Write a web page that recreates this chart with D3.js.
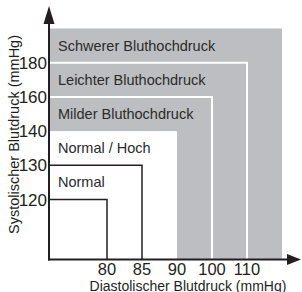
<!DOCTYPE html>
<html>
<head>
<meta charset="utf-8">
<script src="https://cdn.jsdelivr.net/npm/d3@7"></script>
<style>
  body { margin: 0; background: #fff; }
  text { font-family: "Liberation Sans", Arial, sans-serif; }
</style>
</head>
<body>
<div id="chart"></div>
<script>
// --------------------------------------------
// DONNEES
// --------------------------------------------
const xTicks = [80, 85, 90, 100, 110];
const yTicks = [120, 130, 140, 160, 180];

// Catégories : seuil inférieur systolique / diastolique
const categories = [
  "Normal",
  "Normal / Hoch",
  "Milder Bluthochdruck",
  "Leichter Bluthochdruck",
  "Schwerer Bluthochdruck",
];
const sysLower = [120, 130, 140, 160, 180];
const diaLower = [80, 85, 90, 100, 110];
const isHypertension = [false, false, true, true, true];

// --------------------------------------------
// MISE EN PAGE
// --------------------------------------------
const width = 302;
const height = 292;
const x0 = 49;
const y0 = 259.5;
const gray = "#bdbec1";

const x = d3.scalePoint().domain([...xTicks, "max"]).range([107, 282]);
const y = d3.scalePoint().domain([...yTicks, "max"]).range([199.5, 28.5]);

const svg = d3
  .select("#chart")
  .append("svg")
  .attr("width", width)
  .attr("height", height);

// zone grise (hypertension)
svg
  .append("rect")
  .attr("x", x0)
  .attr("y", y("max"))
  .attr("width", x("max") - x0)
  .attr("height", y0 - y("max"))
  .attr("fill", gray);

// lignes blanches entre les stades
categories.forEach((c, i) => {
  if (isHypertension[i] && i > 0 && isHypertension[i - 1]) {
    svg
      .append("path")
      .attr("d", `M${x0},${y(sysLower[i])}H${x(diaLower[i])}V${y0}`)
      .attr("fill", "none")
      .attr("stroke", "#fff")
      .attr("stroke-width", 2);
  }
});

// zone blanche (pas d'hypertension)
const firstHyp = isHypertension.indexOf(true);
svg
  .append("rect")
  .attr("x", x0)
  .attr("y", y(sysLower[firstHyp]))
  .attr("width", x(diaLower[firstHyp]) - x0)
  .attr("height", y0 - y(sysLower[firstHyp]))
  .attr("fill", "#fff");

// contours noirs des zones normales
categories.forEach((c, i) => {
  if (!isHypertension[i]) {
    svg
      .append("path")
      .attr("d", `M${x0},${y(sysLower[i])}H${x(diaLower[i])}V${y0}`)
      .attr("fill", "none")
      .attr("stroke", "#231f20")
      .attr("stroke-width", 1.5);
  }
});

// libellés des catégories
categories.forEach((c, i) => {
  const top = i + 1 < sysLower.length ? y(sysLower[i + 1]) : y("max");
  const mid = (top + y(sysLower[i])) / 2;
  svg
    .append("text")
    .attr("x", x0 + 9)
    .attr("y", mid)
    .attr("dy", "0.35em")
    .style("font-size", "14.5px")
    .style("fill", "#2b2b2b")
    .text(c);
});

// --------------------------------------------
// AXES
// --------------------------------------------
svg
  .append("line")
  .attr("x1", x0)
  .attr("x2", x0)
  .attr("y1", y0 + 1)
  .attr("y2", 22)
  .attr("stroke", "#231f20")
  .attr("stroke-width", 2);

svg
  .append("path")
  .attr("d", `M${x0},6L${x0 + 5.5},24L${x0 - 5.5},24Z`)
  .attr("fill", "#231f20");

svg
  .append("line")
  .attr("x1", x0 - 1)
  .attr("x2", 289)
  .attr("y1", y0)
  .attr("y2", y0)
  .attr("stroke", "#231f20")
  .attr("stroke-width", 2);

svg
  .append("path")
  .attr("d", `M301,${y0}L287,${y0 - 5.5}L287,${y0 + 5.5}Z`)
  .attr("fill", "#231f20");

svg
  .selectAll(".ytick")
  .data(yTicks)
  .enter()
  .append("text")
  .attr("class", "ytick")
  .attr("x", x0 - 2)
  .attr("y", (d) => y(d))
  .attr("dy", "0.36em")
  .attr("text-anchor", "end")
  .style("font-size", "17px")
  .style("fill", "#231f20")
  .text((d) => d);

svg
  .selectAll(".xtick")
  .data(xTicks)
  .enter()
  .append("text")
  .attr("class", "xtick")
  .attr("x", (d) => x(d))
  .attr("y", 274.5)
  .attr("text-anchor", "middle")
  .style("font-size", "16.5px")
  .style("fill", "#231f20")
  .text((d) => d);

svg
  .append("text")
  .attr("x", 188)
  .attr("y", 290.5)
  .attr("text-anchor", "middle")
  .style("font-size", "14px")
  .style("fill", "#231f20")
  .text("Diastolischer Blutdruck (mmHg)");

svg
  .append("text")
  .attr("transform", "translate(19,134.5) rotate(-90)")
  .attr("text-anchor", "middle")
  .style("font-size", "14.5px")
  .style("fill", "#231f20")
  .text("Systolischer Blutdruck (mmHg)");
</script>
</body>
</html>
